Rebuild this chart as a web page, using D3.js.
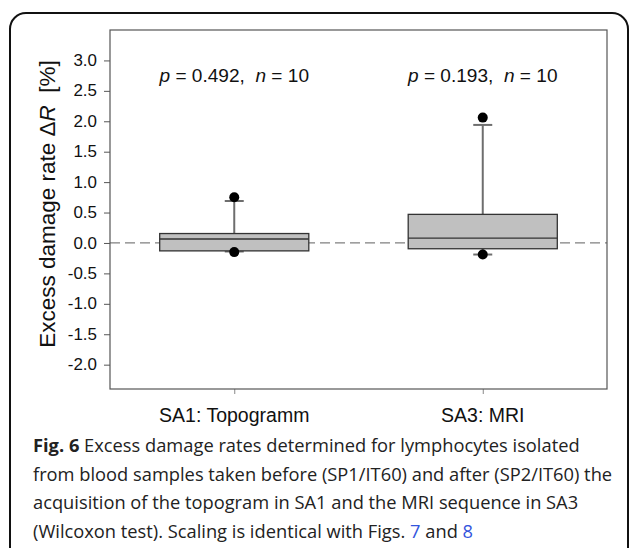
<!DOCTYPE html>
<html>
<head>
<meta charset="utf-8">
<script src="https://cdn.jsdelivr.net/npm/d3@7"></script>
<style>
  body { margin: 0; background: #fff; }
  svg { display: block; }
</style>
</head>
<body>
<div id="chart"></div>
<script>
// data
const groups = ["SA1: Topogramm", "SA3: MRI"]
const stats = ["p = 0.492", "p = 0.193"]
const nSamples = [10, 10]
const q1 = [-0.13, -0.095]
const medians = [0.065, 0.08]
const q3 = [0.155, 0.47]
const whiskerLow = [-0.14, -0.19]
const whiskerHigh = [0.69, 1.94]
const outliers = [[0.75, -0.15], [2.06, -0.19]]
const yTicks = [-2.0, -1.5, -1.0, -0.5, 0.0, 0.5, 1.0, 1.5, 2.0, 2.5, 3.0]

const W = 630, H = 548
const plot = {left: 110, top: 30, right: 607, bottom: 389}
const stretch = 1.06  // the figure's plot text is a touch wider than Arial

const svg = d3.select("#chart")
  .append("svg")
    .attr("width", W)
    .attr("height", H)
    .style("font-family", "'Liberation Sans', Arial, sans-serif")

// outer rounded frame
svg.append("rect")
  .attr("x", 10).attr("y", 13)
  .attr("width", 618).attr("height", 580)
  .attr("rx", 16)
  .attr("fill", "none")
  .attr("stroke", "#111")
  .attr("stroke-width", 2)

const x = d3.scalePoint()
  .domain(groups)
  .range([plot.left, plot.right])
  .padding(0.5)

const y = d3.scaleLinear()
  .domain([-2.4, 3.5])
  .range([plot.bottom, plot.top])

const boxW = x.step() * 0.6
const capW = 19

// zero reference line
svg.append("line")
  .attr("x1", plot.left).attr("x2", plot.right)
  .attr("y1", y(0)).attr("y2", y(0))
  .attr("stroke", "#808080")
  .attr("stroke-width", 1.3)
  .attr("stroke-dasharray", "10,5")

// y axis
const yAxis = svg.append("g")
  .attr("transform", `translate(${plot.left},0)`)
  .call(d3.axisLeft(y).tickValues(yTicks).tickSize(6).tickPadding(7)
    .tickFormat(d => d.toFixed(1)))
yAxis.select(".domain").remove()
yAxis.selectAll("line").attr("stroke", "#555")
yAxis.selectAll("text")
  .attr("fill", "#111")
  .style("font-size", "16px")
  .attr("transform", function() {
    const tx = +d3.select(this).attr("x")
    return `translate(${tx},0) scale(${stretch},1) translate(${-tx},0)`
  })

// x axis ticks
const xAxis = svg.append("g")
  .attr("transform", `translate(0,${plot.bottom})`)
  .call(d3.axisBottom(x).tickSize(5).tickFormat(""))
xAxis.select(".domain").remove()
xAxis.selectAll("line").attr("stroke", "#888")

// plot frame
svg.append("rect")
  .attr("x", plot.left).attr("y", plot.top)
  .attr("width", plot.right - plot.left)
  .attr("height", plot.bottom - plot.top)
  .attr("fill", "none")
  .attr("stroke", "#555")
  .attr("stroke-width", 1.2)

// boxes
groups.forEach((g, i) => {
  const cx = x(g)
  const gb = svg.append("g")

  // whiskers
  gb.append("line")
    .attr("x1", cx).attr("x2", cx)
    .attr("y1", y(q3[i])).attr("y2", y(whiskerHigh[i]))
    .attr("stroke", "#6e6e6e").attr("stroke-width", 2)
  gb.append("line")
    .attr("x1", cx).attr("x2", cx)
    .attr("y1", y(q1[i])).attr("y2", y(whiskerLow[i]))
    .attr("stroke", "#6e6e6e").attr("stroke-width", 2)
  ;[whiskerLow[i], whiskerHigh[i]].forEach(v => {
    gb.append("line")
      .attr("x1", cx - capW / 2).attr("x2", cx + capW / 2)
      .attr("y1", y(v)).attr("y2", y(v))
      .attr("stroke", "#6e6e6e").attr("stroke-width", 2)
  })

  gb.append("rect")
    .attr("x", cx - boxW / 2)
    .attr("y", y(q3[i]))
    .attr("width", boxW)
    .attr("height", y(q1[i]) - y(q3[i]))
    .attr("fill", "#c0c0c0")
    .attr("stroke", "#333")
    .attr("stroke-width", 1.3)

  gb.append("line")
    .attr("x1", cx - boxW / 2).attr("x2", cx + boxW / 2)
    .attr("y1", y(medians[i])).attr("y2", y(medians[i]))
    .attr("stroke", "#333").attr("stroke-width", 1.3)

  gb.selectAll("circle")
    .data(outliers[i])
    .join("circle")
      .attr("cx", cx)
      .attr("cy", d => y(d))
      .attr("r", 5)
      .attr("fill", "#000")

  // p / n annotation
  const t = svg.append("text")
    .attr("text-anchor", "middle")
    .attr("fill", "#111")
    .style("font-size", "18px")
    .attr("transform", `translate(${cx},82) scale(${stretch},1)`)
  const pv = stats[i].split(" = ")
  t.append("tspan").style("font-style", "italic").text(pv[0])
  t.append("tspan").text(` = ${pv[1]},\u00a0\u00a0`)
  t.append("tspan").style("font-style", "italic").text("n")
  t.append("tspan").text(` = ${nSamples[i]}`)
})

// category labels
svg.append("g").selectAll("text")
  .data(groups)
  .join("text")
    .attr("x", d => x(d))
    .attr("y", 422)
    .attr("text-anchor", "middle")
    .attr("fill", "#111")
    .style("font-size", "19.5px")
    .text(d => d)

// y axis title
const yl = svg.append("text")
  .attr("transform", `translate(55,${(65 + 343) / 2}) rotate(-90)`)
  .attr("text-anchor", "middle")
  .attr("fill", "#111")
  .style("font-size", "22.5px")
yl.append("tspan").text("Excess damage rate \u0394")
yl.append("tspan").style("font-style", "italic").text("R")
yl.append("tspan").text("\u00a0\u00a0[%]")

// caption
const captionLines = [
  [["b", "Fig. 6"], ["n", " Excess damage rates determined for lymphocytes isolated"]],
  [["n", "from blood samples taken before (SP1/IT60) and after (SP2/IT60) the"]],
  [["n", "acquisition of the topogram in SA1 and the MRI sequence in SA3"]],
  [["n", "(Wilcoxon test). Scaling is identical with Figs. "], ["l", "7"], ["n", " and "], ["l", "8"]]
]
const cap = svg.append("g")
  .style("font-family", "'Open Sans', 'Noto Sans', sans-serif")
  .style("font-size", "18.3px")
captionLines.forEach((line, i) => {
  const t = cap.append("text")
    .attr("x", 33)
    .attr("y", 452 + i * 28.5)
    .attr("fill", "#222")
  line.forEach(([k, s]) => {
    const sp = t.append("tspan").text(s)
    if (k === "b") sp.style("font-weight", "bold")
    if (k === "l") sp.attr("fill", "#3355dd")
  })
})
</script>
</body>
</html>
